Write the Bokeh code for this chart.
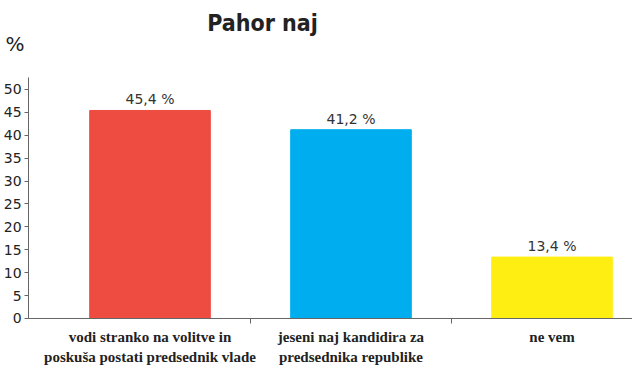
from bokeh.plotting import figure
from bokeh.models import ColumnDataSource, FixedTicker, Range1d
from bokeh.core.properties import value
from bokeh.embed import file_html
from bokeh.resources import INLINE

categories = ["vodi stranko na volitve in\nposkuša postati predsednik vlade",
              "jeseni naj kandidira za\npredsednika republike",
              "ne vem"]
values = [45.4, 41.2, 13.4]
value_labels = ["45,4 %", "41,2 %", "13,4 %"]
colors = ["#EE4C40", "#00AEEF", "#FFEE11"]
y_ticks = [0, 5, 10, 15, 20, 25, 30, 35, 40, 45, 50]
title_text = "Pahor naj"
unit_text = "%"

xs = [i + 0.5 for i in range(len(categories))]
src = ColumnDataSource(dict(x=xs, top=values, lab=value_labels, color=colors))

p = figure(width=632, height=370, output_backend="svg", toolbar_location=None,
           x_range=Range1d(-0.2438, 2.9005), y_range=Range1d(-11.35, 69.4),
           min_border_left=0, min_border_right=0, min_border_top=0, min_border_bottom=0)
p.outline_line_color = None
p.grid.visible = False
p.background_fill_color = "white"

p.vbar(x="x", top="top", width=0.6, color="color", source=src)
p.text(x="x", y="top", text="lab", source=src, text_align="center", text_baseline="bottom",
       y_offset=-3, text_font=value("DejaVu Sans"), text_font_size="14px", text_color="#333333")

# title and unit text
p.text(x=[1.06], y=[64.4], text=[title_text], text_align="center", text_baseline="alphabetic",
       text_font=value("DejaVu Sans Condensed"), text_font_style="bold",
       text_font_size="23px", text_color="#222222")
p.text(x=[-0.219], y=[60.0], text=[unit_text], text_baseline="alphabetic",
       text_font=value("DejaVu Sans"), text_font_size="20px", text_color="#222222")

# x axis: labels at centers, boundary ticks as minor ticks
p.xaxis.ticker = FixedTicker(ticks=xs, minor_ticks=[1, 2, 3])
p.xaxis.major_label_overrides = {x: c for x, c in zip(xs, categories)}
p.xaxis.fixed_location = 0
p.xaxis.bounds = (-0.104, 3.0)
p.xaxis.major_tick_out = 0
p.xaxis.major_tick_in = 0
p.xaxis.minor_tick_out = 5
p.xaxis.minor_tick_in = 0
p.xaxis.axis_line_color = "#666666"
p.xaxis.minor_tick_line_color = "#666666"
p.xaxis.major_label_text_font = "Liberation Sans Narrow"
p.xaxis.major_label_text_font_style = "bold"
p.xaxis.major_label_text_font_size = "15px"
p.xaxis.major_label_text_color = "#222222"
p.xaxis.major_label_standoff = 6

p.yaxis.ticker = FixedTicker(ticks=y_ticks, minor_ticks=[])
p.yaxis.fixed_location = -0.104
p.yaxis.bounds = (0, 52.5)
p.yaxis.major_tick_out = 4
p.yaxis.major_tick_in = 0
p.yaxis.axis_line_color = "#666666"
p.yaxis.major_tick_line_color = "#666666"
p.yaxis.major_label_text_font = "DejaVu Sans"
p.yaxis.major_label_text_font_size = "14px"
p.yaxis.major_label_text_color = "#222222"
p.yaxis.major_label_standoff = 3

open("out.html", "w").write(file_html(p, INLINE))
